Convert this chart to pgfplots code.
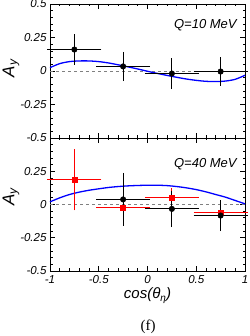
\documentclass[border=0pt]{standalone}
\usepackage{fontspec}
\setmainfont{Liberation Sans}
\newfontfamily\seriffont{Liberation Serif}
\usepackage{pgfplots}
\usepackage{pgfplotstable}
\pgfplotsset{compat=1.18}

\pgfplotstableread{
x y ex ey
-0.75 0.160 0.25 0.093
-0.25 0.034 0.25 0.090
0.25 -0.019 0.25 0.096
0.75 -0.004 0.25 0.087
}\topblack

\pgfplotstableread{
x y ex ey
-0.25 0.038 0.25 0.180
0.25 -0.033 0.25 0.117
0.75 -0.083 0.25 0.097
}\botblack

\pgfplotstableread{
x y ex ey
-0.75 0.185 0.25 0.210
-0.25 -0.023 0.25 0.090
0.25 0.050 0.25 0.055
0.75 -0.058 0.25 0.058
}\botred

\pgfplotsset{
  myaxis/.style={
    scale only axis, width=195pt,
    xmin=-1, xmax=1, ymin=-0.5, ymax=0.5,
    xtick={-1,-0.5,0,0.5,1}, minor x tick num=4,
    ytick={-0.5,-0.25,0,0.25,0.5}, minor y tick num=4,
    tick align=inside, major tick length=5pt, minor tick length=2.5pt,
    axis line style={line width=0.9pt},
    every tick/.style={line width=0.7pt, black},
    ticklabel style={font=\fontsize{11.5}{11.5}\selectfont\itshape},
    /pgf/number format/assume math mode=true,
    clip=false,
  },
  blk/.style={black, only marks, mark=*, mark size=2.8pt,
    error bars/.cd, x dir=both, x explicit, y dir=both, y explicit,
    error bar style={line width=1pt},
    error mark options={line width=1pt, mark size=2.6pt}},
  rd/.style={red, only marks, mark=square*, mark size=2.5pt,
    error bars/.cd, x dir=both, x explicit, y dir=both, y explicit,
    error bar style={line width=1pt},
    error mark options={line width=1pt, mark size=2.6pt}},
}

\begin{document}
\begin{tikzpicture}
\useasboundingbox (0,0) rectangle (249pt,336pt);

\begin{axis}[myaxis, at={(50pt,198pt)}, anchor=south west, height=134pt,
  xticklabels={},
  ylabel={\fontsize{17}{17}\selectfont\itshape A\textsubscript{y}},
  ylabel style={at={(axis description cs:-0.2,0.52)}, anchor=center},
]
\addplot[gray, dashed, line width=0.8pt] coordinates {(-1,0) (1,0)};
\addplot[blue, line width=1.3pt, smooth] coordinates {
(-1,0.025) (-0.9,0.055) (-0.8,0.070) (-0.7,0.075) (-0.6,0.075) (-0.5,0.070)
(-0.4,0.060) (-0.3,0.046) (-0.2,0.031) (-0.1,0.015) (0,-0.002) (0.1,-0.018)
(0.2,-0.033) (0.3,-0.047) (0.4,-0.060) (0.5,-0.070) (0.6,-0.077) (0.7,-0.079)
(0.8,-0.075) (0.9,-0.062) (1,-0.032)};
\addplot[blk] table[x=x, y=y, x error=ex, y error=ey] {\topblack};
\node[anchor=east, font=\fontsize{13}{13}\selectfont\itshape] at (axis description cs:0.975,0.84) {Q=10 MeV};
\end{axis}

\begin{axis}[myaxis, at={(50pt,65pt)}, anchor=south west, height=133pt,
  yticklabels={-0.5,-0.25,0,0.25,{}},
  xticklabel style={yshift=-1pt},
  xlabel={\fontsize{15}{15}\selectfont\itshape cos(θ\raisebox{-0.45ex}{\fontsize{10}{10}\selectfont η})},
  xlabel style={yshift=3pt},
  ylabel={\fontsize{17}{17}\selectfont\itshape A\textsubscript{y}},
  ylabel style={at={(axis description cs:-0.2,0.56)}, anchor=center},
]
\addplot[gray, dashed, line width=0.8pt] coordinates {(-1,0) (1,0)};
\addplot[blue, line width=1.3pt, smooth] coordinates {
(-1,0.020) (-0.9,0.050) (-0.8,0.075) (-0.7,0.093) (-0.6,0.107) (-0.5,0.118)
(-0.4,0.128) (-0.3,0.135) (-0.2,0.140) (-0.1,0.143) (0,0.145) (0.1,0.145)
(0.2,0.142) (0.3,0.135) (0.4,0.125) (0.5,0.112) (0.6,0.095) (0.7,0.075)
(0.8,0.055) (0.9,0.030) (1,0.005)};
\addplot[rd] table[x=x, y=y, x error=ex, y error=ey] {\botred};
\addplot[blk] table[x=x, y=y, x error=ex, y error=ey] {\botblack};
\node[anchor=east, font=\fontsize{13}{13}\selectfont\itshape] at (axis description cs:0.975,0.80) {Q=40 MeV};
\end{axis}

\node[font=\seriffont\fontsize{15}{15}\selectfont] at (148pt,9pt) {(f)};
\end{tikzpicture}
\end{document}
